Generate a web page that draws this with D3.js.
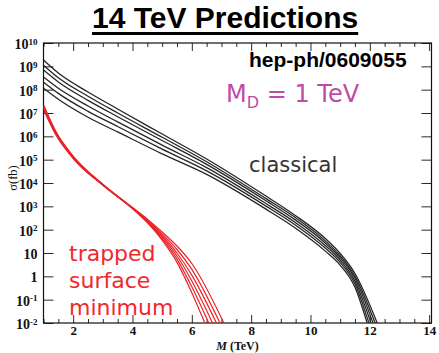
<!DOCTYPE html>
<html>
<head>
<meta charset="utf-8">
<script src="https://cdn.jsdelivr.net/npm/d3@7"></script>
<style>
body { margin: 0; background: #fff; }
svg { display: block; }
</style>
</head>
<body>
<div id="chart"></div>
<script>
// masses (TeV) where the curves were read, log10(sigma / fb) at each of them
let massBlack = [1, 1.5, 2.5, 3.5, 5, 6.5, 8.5, 9.5, 10.5, 11, 11.5];
let classical = [
    [9.27, 8.71, 7.90, 7.17, 6.10, 5.03, 3.44, 2.60, 1.62, 0.98, 0.12],
    [9.05, 8.51, 7.72, 7.00, 5.96, 4.91, 3.33, 2.51, 1.52, 0.88, 0.01],
    [8.84, 8.33, 7.54, 6.84, 5.82, 4.80, 3.24, 2.41, 1.43, 0.80, -0.09],
    [8.54, 8.06, 7.30, 6.62, 5.62, 4.66, 3.12, 2.30, 1.32, 0.70, -0.21],
    [8.32, 7.84, 7.07, 6.42, 5.45, 4.52, 3.01, 2.19, 1.21, 0.60, -0.33],
    [8.06, 7.59, 6.82, 6.19, 5.25, 4.37, 2.88, 2.06, 1.08, 0.48, -0.47]
];
// mass where each curve reaches 10^-2 fb
let classicalEnd = [12.25, 12.18, 12.11, 12.04, 11.97, 11.91];

let massRed = [1, 1.4, 2, 3, 4, 4.5, 5, 5.5, 6];
let trapped = [
    [7.15, 6.10, 5.05, 3.90, 2.90, 2.30, 1.55, 0.60, -0.70],
    [7.20, 6.13, 5.07, 3.91, 2.91, 2.33, 1.62, 0.74, -0.45],
    [7.24, 6.16, 5.09, 3.92, 2.92, 2.36, 1.68, 0.87, -0.20],
    [7.28, 6.19, 5.11, 3.93, 2.93, 2.39, 1.75, 1.00, 0.05],
    [7.32, 6.22, 5.13, 3.94, 2.94, 2.42, 1.82, 1.15, 0.30],
    [7.35, 6.25, 5.15, 3.95, 2.95, 2.45, 1.90, 1.30, 0.55]
];
let trappedEnd = [6.44, 6.57, 6.70, 6.83, 6.95, 7.08];

let xTicks = [2, 4, 6, 8, 10, 12, 14];
let yExponents = [-2, -1, 0, 1, 2, 3, 4, 5, 6, 7, 8, 9, 10];

let dim = {
    'width': 439,
    'height': 353
};
let plot = { left: 43.5, right: 431.5, top: 43, bottom: 323 };

let svg = d3.select('#chart').append('svg')
    .attr('width', dim.width)
    .attr('height', dim.height);

let scaleX = d3.scaleLinear()
    .domain([1, 14.08])
    .range([plot.left, plot.right]);

let scaleY = d3.scaleLog()
    .domain([1e-2, 1e10])
    .range([plot.bottom, plot.top]);

let xMinor = d3.range(1, 14.01, 0.5).filter(v => xTicks.indexOf(v) < 0);
let yAll = scaleY.ticks();
let yMajor = yExponents.map(e => Math.pow(10, e));
let yMinor = yAll.filter(v => yMajor.indexOf(v) < 0);

let serif = 'Liberation Serif, Times New Roman, serif';

function axisStyle(g) {
    g.select('.domain').remove();
    g.selectAll('line').attr('stroke', '#111').attr('stroke-width', 0.9);
}

// x axes, ticks pointing inwards
svg.append('g')
    .attr('transform', `translate(0,${plot.bottom})`)
    .call(d3.axisBottom(scaleX).tickValues(xMinor).tickSize(-4).tickFormat(''))
    .call(axisStyle);

let axisX = svg.append('g')
    .attr('transform', `translate(0,${plot.bottom})`)
    .call(d3.axisBottom(scaleX).tickValues(xTicks).tickSize(-8).tickPadding(3).tickFormat(d3.format('d')))
    .call(axisStyle);
axisX.selectAll('text')
    .attr('font-family', serif)
    .attr('font-weight', 'bold')
    .attr('font-size', 13)
    .attr('fill', '#111');

svg.append('g')
    .attr('transform', `translate(0,${plot.top})`)
    .call(d3.axisTop(scaleX).tickValues(xMinor).tickSize(-4).tickFormat(''))
    .call(axisStyle);
svg.append('g')
    .attr('transform', `translate(0,${plot.top})`)
    .call(d3.axisTop(scaleX).tickValues(xTicks).tickSize(-8).tickFormat(''))
    .call(axisStyle);

// y axes
svg.append('g')
    .attr('transform', `translate(${plot.left},0)`)
    .call(d3.axisLeft(scaleY).tickValues(yMinor).tickSize(-5).tickFormat(''))
    .call(axisStyle);

let axisY = svg.append('g')
    .attr('transform', `translate(${plot.left},0)`)
    .call(d3.axisLeft(scaleY).tickValues(yMajor).tickSize(-10).tickPadding(6).tickFormat(''))
    .call(axisStyle);

axisY.selectAll('.tick text').each(function(d) {
    let t = d3.select(this)
        .attr('font-family', serif)
        .attr('font-weight', 'bold')
        .attr('font-size', 14)
        .attr('fill', '#111')
        .attr('dy', '0.4em');
    let e = Math.round(Math.log10(d));
    if (e === 0) { t.text('1'); return; }
    if (e === 1) { t.text('10'); return; }
    t.append('tspan').text('10');
    t.append('tspan').attr('dy', '-0.5em').attr('font-size', 9).text(e);
});

svg.append('g')
    .attr('transform', `translate(${plot.right},0)`)
    .call(d3.axisRight(scaleY).tickValues(yMinor).tickSize(-5).tickFormat(''))
    .call(axisStyle);
svg.append('g')
    .attr('transform', `translate(${plot.right},0)`)
    .call(d3.axisRight(scaleY).tickValues(yMajor).tickSize(-10).tickFormat(''))
    .call(axisStyle);

svg.append('rect')
    .attr('x', plot.left).attr('y', plot.top)
    .attr('width', plot.right - plot.left)
    .attr('height', plot.bottom - plot.top)
    .attr('fill', 'none')
    .attr('stroke', '#111')
    .attr('stroke-width', 1.2);

// curves
svg.append('clipPath').attr('id', 'clip')
    .append('rect')
    .attr('x', plot.left).attr('y', plot.top)
    .attr('width', plot.right - plot.left)
    .attr('height', plot.bottom - plot.top);

let lineGen = d3.line()
    .x(d => scaleX(d[0]))
    .y(d => scaleY(d[1]))
    .curve(d3.curveMonotoneX);

function toPoints(mass, logs, end) {
    return mass.map((m, i) => [m, Math.pow(10, logs[i])]).concat([[end, 1e-2]]);
}

let curves = svg.append('g').attr('clip-path', 'url(#clip)');

curves.selectAll('path.classical')
    .data(classical.map((c, i) => toPoints(massBlack, c, classicalEnd[i])))
    .join('path')
    .attr('class', 'classical')
    .attr('d', lineGen)
    .attr('fill', 'none')
    .attr('stroke', '#262626')
    .attr('stroke-width', 1.3);

curves.selectAll('path.trapped')
    .data(trapped.map((c, i) => toPoints(massRed, c, trappedEnd[i])))
    .join('path')
    .attr('class', 'trapped')
    .attr('d', lineGen)
    .attr('fill', 'none')
    .attr('stroke', '#e8242a')
    .attr('stroke-width', 1.2);

// axis titles
svg.append('text')
    .attr('transform', 'translate(17,178) rotate(-90)')
    .attr('text-anchor', 'middle')
    .attr('font-family', serif)
    .attr('font-size', 12.5)
    .attr('fill', '#111')
    .text('σ(fb)');

let xTitle = svg.append('text')
    .attr('x', 237.5).attr('y', 350)
    .attr('text-anchor', 'middle')
    .attr('font-family', serif)
    .attr('font-weight', 'bold')
    .attr('font-size', 12)
    .attr('fill', '#111');
xTitle.append('tspan').attr('font-style', 'italic').text('M');
xTitle.append('tspan').text('  (TeV)');

// title
let title = svg.append('text')
    .attr('x', 92).attr('y', 28)
    .attr('font-family', 'Liberation Sans, Arial, sans-serif')
    .attr('font-weight', 'bold')
    .attr('font-size', 30)
    .attr('fill', '#000')
    .text('14 TeV Predictions');
let titleLen = title.node().getComputedTextLength();
svg.append('rect')
    .attr('x', 92).attr('y', 32)
    .attr('width', titleLen).attr('height', 3)
    .attr('fill', '#000');

svg.append('text')
    .attr('x', 249).attr('y', 67)
    .attr('font-family', 'Liberation Sans, Arial, sans-serif')
    .attr('font-weight', 'bold')
    .attr('font-size', 21)
    .attr('fill', '#000')
    .text('hep-ph/0609055');

let md = svg.append('text')
    .attr('x', 226).attr('y', 102)
    .attr('font-family', 'DejaVu Sans, sans-serif')
    .attr('font-size', 24)
    .attr('fill', '#bf4aa8');
md.append('tspan').text('M');
md.append('tspan').attr('dy', 6).attr('font-size', 16).text('D');
md.append('tspan').attr('dy', -6).text(' = 1 TeV');

svg.append('text')
    .attr('x', 249).attr('y', 172)
    .attr('font-family', 'DejaVu Sans, sans-serif')
    .attr('font-size', 21)
    .attr('fill', '#333')
    .text('classical');

let redLabel = ['trapped', 'surface', 'minimum'];
svg.selectAll('text.red')
    .data(redLabel)
    .join('text')
    .attr('class', 'red')
    .attr('x', 69)
    .attr('y', (d, i) => 261 + i * 27)
    .attr('font-family', 'DejaVu Sans, sans-serif')
    .attr('font-size', 22)
    .attr('fill', '#f0282c')
    .text(d => d);
</script>
</body>
</html>
